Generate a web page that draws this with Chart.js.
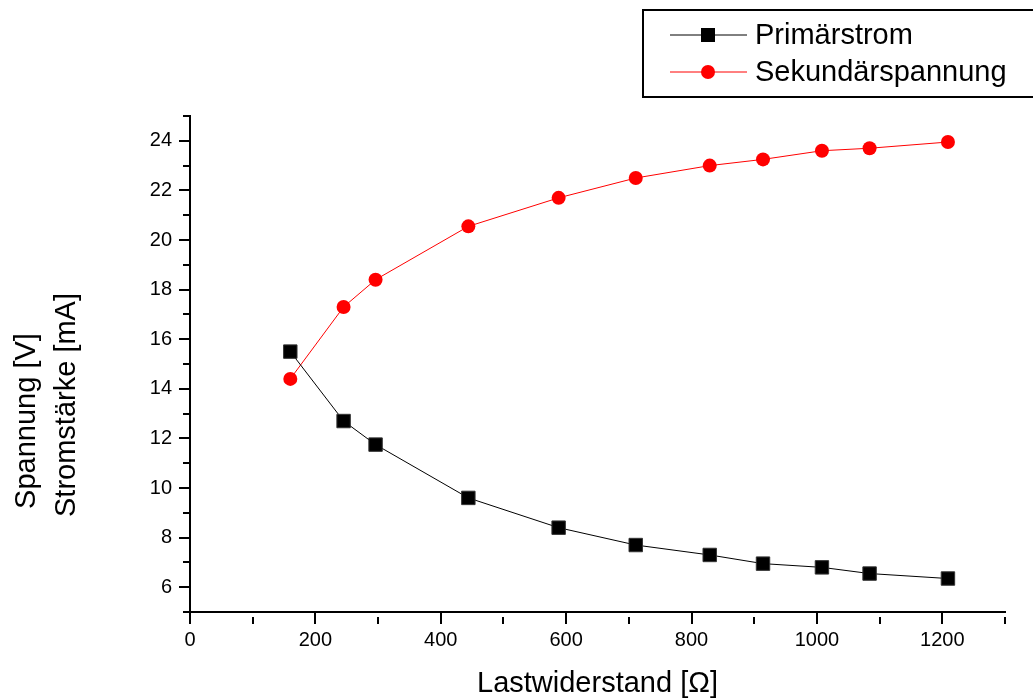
<!DOCTYPE html>
<html>
<head>
<meta charset="utf-8">
<title>Primärstrom / Sekundärspannung</title>
<script src="https://cdn.jsdelivr.net/npm/chart.js"></script>
<style>
  body { margin: 0; background: #fff; }
  #wrap { width: 1033px; height: 698px; }
</style>
</head>
<body>
<div id="wrap"><canvas id="myChart" width="1033" height="698"></canvas></div>
<script>
const lastwiderstand = [160, 245, 296, 444, 588, 711, 829, 914, 1008, 1084, 1209];
const primaerstrom = [15.5, 12.7, 11.75, 9.6, 8.4, 7.7, 7.3, 6.95, 6.8, 6.55, 6.35];
const sekundaerspannung = [14.4, 17.3, 18.4, 20.55, 21.7, 22.5, 23.0, 23.25, 23.6, 23.7, 23.95];

const seriesNames = ['Primärstrom', 'Sekundärspannung'];
const xTitle = 'Lastwiderstand [Ω]';
const yTitleLines = ['Spannung [V]', 'Stromstärke [mA]'];
const xLabels = [0, 200, 400, 600, 800, 1000, 1200];
const yLabels = [6, 8, 10, 12, 14, 16, 18, 20, 22, 24];

const FONT = 'Arial, "Liberation Sans", Helvetica, sans-serif';

const toPoints = ys => lastwiderstand.map((x, i) => ({x: x, y: ys[i]}));

// kurze Nebenstriche, lange Hauptstriche
const minorDash = isMajor => isMajor ? [] : [0, 4, 7, 100];

const legendBox = {
    id: 'legendBox',
    afterDraw(chart) {
        const ctx = chart.ctx;
        ctx.save();
        ctx.strokeStyle = '#000';
        ctx.lineWidth = 2;
        ctx.strokeRect(643, 10, 400, 87);
        const rows = [35, 72];
        chart.data.datasets.forEach((ds, i) => {
            const y = rows[i];
            ctx.strokeStyle = ds.borderColor;
            ctx.lineWidth = 1;
            ctx.beginPath();
            ctx.moveTo(670, y);
            ctx.lineTo(747, y);
            ctx.stroke();
            ctx.fillStyle = ds.pointBackgroundColor;
            if (ds.pointStyle === 'rect') {
                ctx.fillRect(708 - 7, y - 7, 14, 14);
            } else {
                ctx.beginPath();
                ctx.arc(708, y, 7, 0, Math.PI * 2);
                ctx.fill();
            }
            ctx.fillStyle = '#000';
            ctx.font = '29px ' + FONT;
            ctx.textBaseline = 'middle';
            ctx.textAlign = 'left';
            ctx.fillText(ds.label, 755, y + 1);
        });
        ctx.restore();
    }
};

const yTitle = {
    id: 'yTitle',
    afterDraw(chart) {
        const ctx = chart.ctx;
        ctx.save();
        ctx.fillStyle = '#000';
        ctx.font = '29px ' + FONT;
        ctx.textAlign = 'center';
        ctx.textBaseline = 'middle';
        const cols = [[27, 421], [67, 405]];
        yTitleLines.forEach((t, i) => {
            ctx.save();
            ctx.translate(cols[i][0], cols[i][1]);
            ctx.rotate(-Math.PI / 2);
            ctx.fillText(t, 0, 0);
            ctx.restore();
        });
        ctx.restore();
    }
};

function graficar(ctx) {
    return new Chart(ctx, {
        type: 'line',
        data: {
            datasets: [{
                label: seriesNames[0],
                data: toPoints(primaerstrom),
                borderColor: '#000',
                borderWidth: 1,
                pointStyle: 'rect',
                pointRadius: 9.5,
                pointBackgroundColor: '#000',
                pointBorderColor: '#333',
                pointBorderWidth: 1,
                tension: 0
            }, {
                label: seriesNames[1],
                data: toPoints(sekundaerspannung),
                borderColor: '#ff0000',
                borderWidth: 1,
                pointStyle: 'circle',
                pointRadius: 7,
                pointBackgroundColor: '#ff0000',
                pointBorderColor: '#ff0000',
                pointBorderWidth: 0,
                tension: 0
            }]
        },
        options: {
            responsive: false,
            animation: false,
            devicePixelRatio: 1,
            layout: {padding: {left: 0, top: 116, right: 28, bottom: 0}},
            plugins: {legend: {display: false}, tooltip: {enabled: false}},
            scales: {
                x: {
                    type: 'linear',
                    min: 0,
                    max: 1300,
                    afterFit: s => { s.height = 86; },
                    border: {display: true, color: '#000', width: 2},
                    grid: {
                        drawOnChartArea: false,
                        drawTicks: true,
                        tickLength: 12,
                        color: '#000',
                        lineWidth: 2,
                        tickBorderDash: c => minorDash(xLabels.includes(c.tick.value))
                    },
                    ticks: {
                        stepSize: 100,
                        autoSkip: false,
                        maxRotation: 0,
                        padding: 4,
                        color: '#000',
                        font: {family: FONT, size: 20},
                        callback: v => xLabels.includes(v) ? String(v) : ''
                    },
                    title: {
                        display: true,
                        text: xTitle,
                        color: '#000',
                        font: {family: FONT, size: 29, lineHeight: 1},
                        padding: {top: 0, bottom: 0}
                    }
                },
                y: {
                    type: 'linear',
                    min: 5,
                    max: 25,
                    afterFit: s => { s.width = 190; },
                    border: {display: true, color: '#000', width: 2},
                    grid: {
                        drawOnChartArea: false,
                        drawTicks: true,
                        tickLength: 11,
                        color: '#000',
                        lineWidth: 2,
                        tickBorderDash: c => minorDash(yLabels.includes(c.tick.value))
                    },
                    ticks: {
                        stepSize: 1,
                        autoSkip: false,
                        padding: 7,
                        color: '#000',
                        font: {family: FONT, size: 20},
                        callback: v => yLabels.includes(v) ? String(v) : ''
                    }
                }
            }
        },
        plugins: [legendBox, yTitle]
    });
}

function getChars() {
    const ctx = document.getElementById('myChart').getContext('2d');
    graficar(ctx);
}
getChars();
</script>
</body>
</html>
